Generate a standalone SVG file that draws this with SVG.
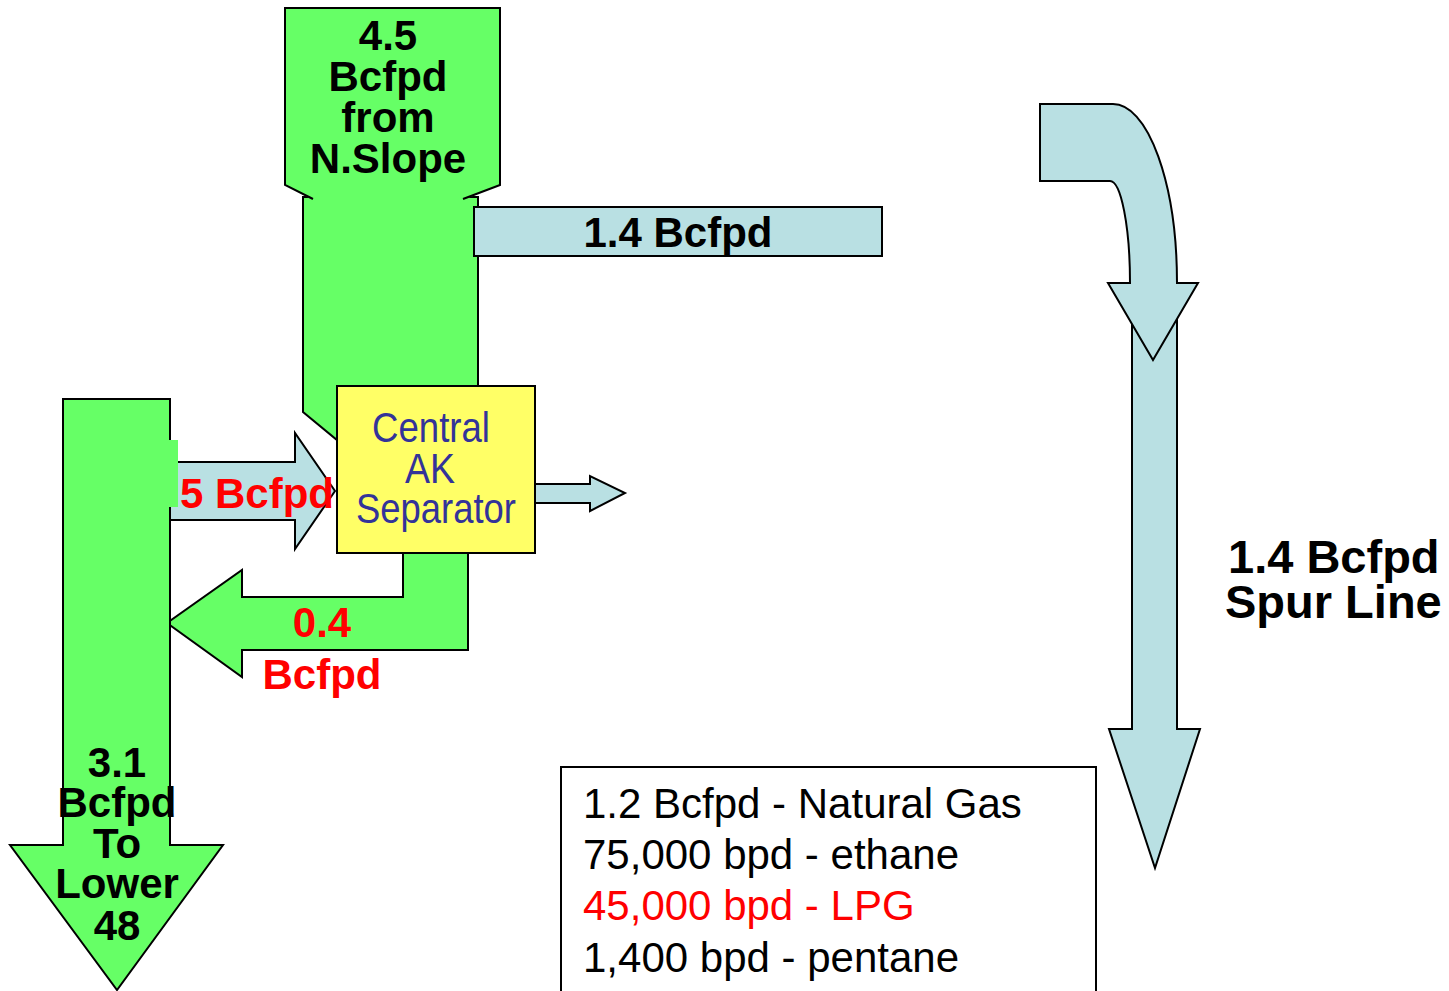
<svg xmlns="http://www.w3.org/2000/svg" width="1449" height="991" viewBox="0 0 1449 991">
<style>
.g{fill:#66FF66;stroke:#000;stroke-width:2;stroke-linejoin:miter}
.b{fill:#B9E0E3;stroke:#000;stroke-width:2}
.t{font-family:"Liberation Sans",Arial,sans-serif;font-weight:bold;font-size:42px;fill:#000;text-anchor:middle}
.r{fill:#FF0000}
.n{font-family:"Liberation Sans Narrow","Liberation Sans",Arial,sans-serif;font-size:42px;fill:#333399}
.l{font-family:"Liberation Sans",Arial,sans-serif;font-size:42px;fill:#000}
</style>
<rect width="1449" height="991" fill="#fff"/>
<g id="connectors">
  <!-- pipe from N.Slope -->
  <path class="g" d="M303,197 L478,197 L478,387 L337,440 L303,412 Z"/>
  <!-- 1.4 Bcfpd horizontal -->
  <rect class="b" x="474" y="207" width="408" height="49"/>
  <text class="t" x="678" y="247">1.4 Bcfpd</text>
  <!-- spur line shaft -->
  <path class="b" d="M1132,320 L1177,320 L1177,729 L1200,729 L1155,868 L1109,729 L1132,729 Z"/>
  <!-- curved arrow -->
  <path class="b" d="M1040,104 L1113,104 A64,179 0 0 1 1177,283 L1198,283 L1153,360 L1108,283 L1130,283 A20,102 0 0 0 1110,181 L1040,181 Z"/>
  <!-- blue arrow into separator -->
  <path class="b" d="M170,462 L295,462 L295,433 L335,491 L295,549 L295,520 L170,520 Z"/>
  <!-- small blue arrow out -->
  <path class="b" d="M535,484 L590,484 L590,476 L625,493 L590,511 L590,503 L535,503 Z"/>
  <!-- green return arrow -->
  <path class="g" d="M403,553 L468,553 L468,650 L242,650 L242,677 L167,623 L242,570 L242,597 L403,597 Z"/>
</g>
<g id="n-slope">
  <path d="M313,200 L285,185 L285,8 L500,8 L500,185 L463,200 L463,215 L313,215 Z" fill="#66FF66"/>
  <path d="M313,199 L285,185 L285,8 L500,8 L500,185 L463,199" fill="none" stroke="#000" stroke-width="2"/>
  <text class="t" x="388" y="50">4.5</text>
  <text class="t" x="388" y="91">Bcfpd</text>
  <text class="t" x="388" y="132">from</text>
  <text class="t" x="388" y="173">N.Slope</text>
</g>
<g id="lower48">
  <path class="g" d="M63,399 L170,399 L170,845 L223,845 L117,990 L10,845 L63,845 Z"/>
  <rect x="169" y="440" width="9" height="67" fill="#66FF66"/>
  <text class="t" x="117" y="777">3.1</text>
  <text class="t" x="117" y="817">Bcfpd</text>
  <text class="t" x="117" y="858">To</text>
  <text class="t" x="117" y="898">Lower</text>
  <text class="t" x="117" y="940">48</text>
</g>
<g id="label-in">
  <text class="t r" x="180" y="508" style="text-anchor:start">5 Bcfpd</text>
</g>
<g id="label-return">
  <text class="t r" x="322" y="637">0.4</text>
  <text class="t r" x="322" y="689">Bcfpd</text>
</g>
<g id="separator">
  <rect x="337" y="386" width="198" height="167" fill="#FFFF66" stroke="#000" stroke-width="2"/>
  <text class="n" x="372" y="442" textLength="118" lengthAdjust="spacingAndGlyphs">Central</text>
  <text class="n" x="405" y="483" textLength="50" lengthAdjust="spacingAndGlyphs">AK</text>
  <text class="n" x="356" y="523" textLength="160" lengthAdjust="spacingAndGlyphs">Separator</text>
</g>
<g id="spur-label">
  <text class="t" x="1228" y="573" style="text-anchor:start;font-size:47px">1.4 Bcfpd</text>
  <text class="t" x="1225" y="618" style="text-anchor:start;font-size:47px">Spur Line</text>
</g>
<g id="legend">
  <rect x="561" y="767" width="535" height="240" fill="#fff" stroke="#000" stroke-width="2"/>
  <text class="l" x="583" y="818">1.2 Bcfpd - Natural Gas</text>
  <text class="l" x="583" y="869">75,000 bpd - ethane</text>
  <text class="l" x="583" y="920" fill="#FF0000" style="fill:#FF0000">45,000 bpd - LPG</text>
  <text class="l" x="583" y="972">1,400 bpd - pentane</text>
</g>
</svg>
